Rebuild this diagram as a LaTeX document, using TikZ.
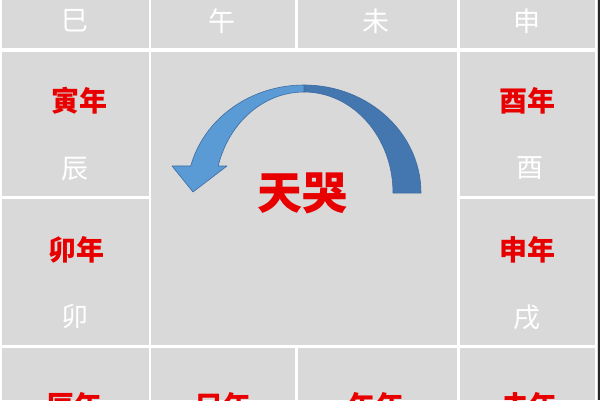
\documentclass[tikz,border=0pt]{standalone}
\usepackage{fontspec}
\newfontfamily\cjk{Noto Sans CJK SC}
\definecolor{cellgrey}{RGB}{217,217,217}
\definecolor{txtred}{RGB}{232,0,0}
\definecolor{arrlight}{RGB}{91,155,213}
\definecolor{arrdark}{RGB}{68,118,176}
\definecolor{arredge}{RGB}{62,108,160}
\definecolor{edgedark}{RGB}{40,40,40}
\begin{document}
\begin{tikzpicture}[x=1pt,y=-1pt,
  cell/.style={fill=cellgrey,draw=none},
  branch/.style={font=\cjk\fontsize{27}{27}\selectfont,text=white,inner sep=0pt},
  yearlbl/.style={font=\cjk\bfseries\fontsize{28}{28}\selectfont,text=txtred,inner sep=0pt},
  titlelbl/.style={font=\cjk\bfseries\fontsize{45}{45}\selectfont,text=txtred,inner sep=0pt},
  arrowband/.style={draw=arredge,line width=0.6pt,line join=round}
]
\useasboundingbox (0,0) rectangle (600,400);
\clip (0,0) rectangle (600,400);
\fill[white] (0,0) rectangle (600,400);
% top row
\path[cell] (2,0) rectangle (148.5,48);
\path[cell] (151,0) rectangle (295,48);
\path[cell] (297.5,0) rectangle (457,48);
\path[cell] (459.5,0) rectangle (594.5,48);
% left column
\path[cell] (2,52) rectangle (148.5,196);
\path[cell] (2,198.5) rectangle (148.5,345);
% right column
\path[cell] (459.5,52) rectangle (594.5,196);
\path[cell] (459.5,198.5) rectangle (594.5,345);
% centre
\path[cell] (151,52) rectangle (457,345);
% bottom row
\path[cell] (2,347.5) rectangle (148.5,400);
\path[cell] (151,347.5) rectangle (295,400);
\path[cell] (297.5,347.5) rectangle (457,400);
\path[cell] (459.5,347.5) rectangle (594.5,400);
% right edge
\fill[cellgrey] (597,0) rectangle (598.3,400);
\fill[edgedark] (598.3,0) rectangle (600,400);

% curved arrow: back (dark) band
\filldraw[arrowband,fill=arrdark] (421,193)
  arc[start angle=0,end angle=-90,x radius=117,y radius=108]
  -- (304,92)
  arc[start angle=-90,end angle=0,x radius=89,y radius=101]
  -- cycle;
% front (light) band with head
\filldraw[arrowband,fill=arrlight] (304,85)
  arc[start angle=-90,end angle=-165.5,x radius=117,y radius=108]
  -- (172,166) -- (193,192) -- (227,166) -- (218.2,166)
  arc[start angle=-164.5,end angle=-90,x radius=89,y radius=101]
  -- cycle;

% top row branches
\node[branch] (si)   at (75,21)  {巳};
\node[branch] (wu)   at (222,21) {午};
\node[branch] (wei)  at (376,21) {未};
\node[branch] (shen) at (527,21) {申};
% left column
\node[yearlbl] (yinnian) at (79,101) {寅年};
\node[branch]  (chen)    at (75,169) {辰};
\node[yearlbl] (maonian) at (76,250) {卯年};
\node[branch]  (mao)     at (75,316) {卯};
% right column
\node[yearlbl] (younian)  at (527,101) {酉年};
\node[branch]  (you)      at (530,168) {酉};
\node[yearlbl] (shennian) at (527,250) {申年};
\node[branch]  (xu)       at (527,317) {戌};
% bottom row
\node[yearlbl] (chennian) at (74,406)  {辰年};
\node[yearlbl] (sinian)   at (223,406) {巳年};
\node[yearlbl] (wunian)   at (376,406) {午年};
\node[yearlbl] (weinian)  at (529,406) {未年};
% centre title
\node[titlelbl] (tianku) at (302,193) {天哭};
\end{tikzpicture}
\end{document}
